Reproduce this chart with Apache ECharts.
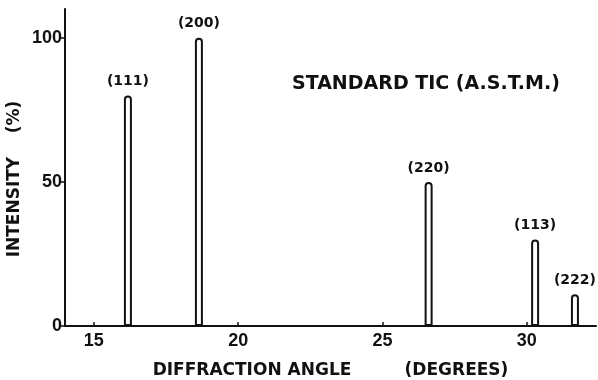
<!DOCTYPE html>
<html>
<head>
<meta charset="utf-8">
<script src="https://cdn.jsdelivr.net/npm/echarts@6/dist/echarts.min.js"></script>
<style>
  html, body { margin: 0; padding: 0; background: #fff; }
  #chart { width: 598px; height: 380px; }
</style>
</head>
<body>
<div id="chart"></div>
<script>
// peak positions (2θ, degrees) and relative intensity (%)
const peakAngles = [16.18, 18.64, 26.6, 30.29, 31.67]
const peakIntensity = [80, 100, 50, 30, 11]
const peakLabels = ['(111)', '(200)', '(220)', '(113)', '(222)']
const xTicks = [15, 20, 25, 30]
const yTicks = [0, 50, 100]

const font = 'DejaVu Sans'
const tickFont = 'Liberation Sans'
const ink = '#111'
const chart = echarts.init(document.getElementById('chart'))

const option = {
  animation: false,
  backgroundColor: '#fff',
  grid: { left: 65, right: 2, top: 9, bottom: 54, outerBoundsMode: 'none' },
  xAxis: {
    type: 'value',
    min: 14,
    max: 32.4,
    name: 'DIFFRACTION ANGLE         (DEGREES)',
    nameLocation: 'middle',
    nameGap: 36,
    nameTextStyle: { color: ink, fontFamily: font, fontWeight: 'bold', fontSize: 17 },
    axisLine: { lineStyle: { color: ink, width: 2 } },
    axisTick: { show: true, inside: true, length: 4, customValues: xTicks, lineStyle: { color: ink, width: 1.5 } },
    axisLabel: { customValues: xTicks, color: ink, fontFamily: tickFont, fontWeight: 'bold', fontSize: 18, margin: 6 },
    splitLine: { show: false }
  },
  yAxis: {
    type: 'value',
    min: 0,
    max: 110,
    axisLine: { show: true, lineStyle: { color: ink, width: 2 } },
    axisTick: { show: true, length: 4, customValues: yTicks, lineStyle: { color: ink, width: 1.5 } },
    axisLabel: { customValues: yTicks, color: ink, fontFamily: tickFont, fontWeight: 'bold', fontSize: 18, margin: 3 },
    splitLine: { show: false }
  },
  graphic: [
    {
      type: 'text',
      x: 292,
      y: 84,
      style: { text: 'STANDARD TIC (A.S.T.M.)', fill: ink, font: 'bold 19px "DejaVu Sans"', verticalAlign: 'middle' }
    },
    {
      // y axis title, drawn as rotated text
      type: 'text',
      x: 15,
      y: 179,
      rotation: Math.PI / 2,
      style: { text: 'INTENSITY    (%)', fill: ink, font: 'bold 17px "DejaVu Sans"', align: 'center', verticalAlign: 'middle' }
    }
  ],
  series: [
    {
      type: 'bar',
      barWidth: 8,
      data: peakAngles.map((x, i) => [x, peakIntensity[i]]),
      itemStyle: { color: '#fff', borderColor: ink, borderWidth: 2, borderRadius: [3, 3, 0, 0] },
      label: {
        show: true,
        position: 'top',
        distance: 7,
        formatter: p => peakLabels[p.dataIndex],
        color: ink,
        fontFamily: font,
        fontWeight: 'bold',
        fontSize: 14
      }
    }
  ]
}
chart.setOption(option)
</script>
</body>
</html>
